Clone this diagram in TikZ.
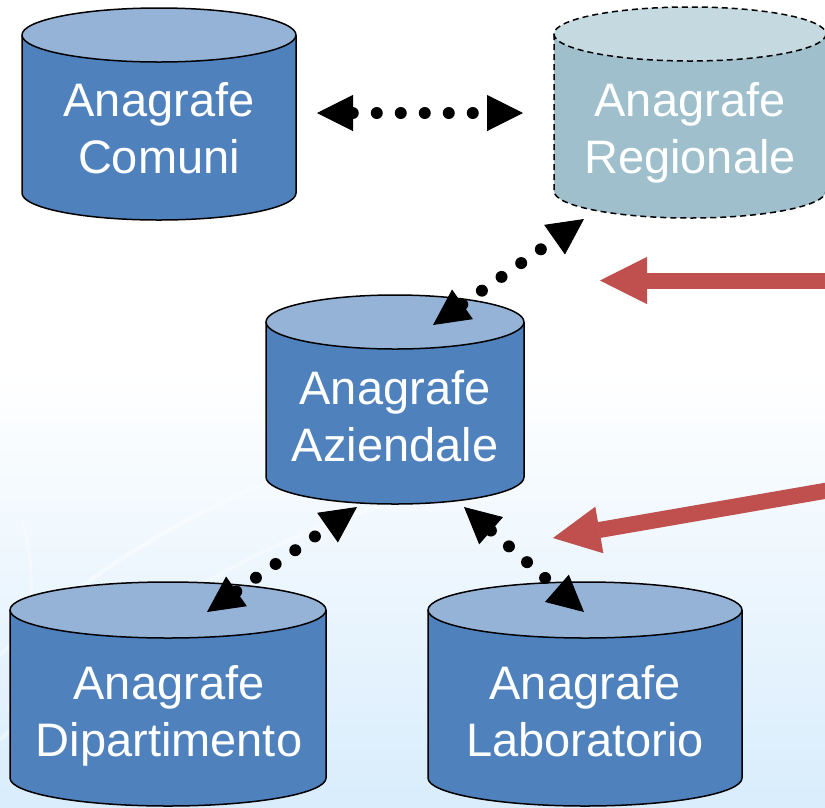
\documentclass[tikz,border=0pt]{standalone}
\usepackage{fontspec}
\setmainfont{Liberation Sans}
\usepackage{tikz}
\usetikzlibrary{arrows.meta}
\usepackage{xcolor}

\definecolor{dbside}{RGB}{79,129,189}
\definecolor{dbtop}{RGB}{149,179,215}
\definecolor{regside}{RGB}{158,191,203}
\definecolor{regtop}{RGB}{196,217,224}
\definecolor{bgblue}{RGB}{186,222,250}
\definecolor{redarr}{RGB}{192,80,77}

\pgfdeclareverticalshading{bgfade}{100bp}{color(0bp)=(bgblue);
  color(28bp)=(bgblue!50!white); color(52bp)=(white); color(100bp)=(white)}

% side colour, top colour, outline, cx, ytop, ybot, rx, ry
\newcommand{\dbcyl}[8]{%
  \filldraw[#3, fill=#1] (#4-#7,#5) -- (#4-#7,#6)
    arc[start angle=180, end angle=0, x radius=#7, y radius=#8] -- (#4+#7,#5);
  \filldraw[#3, fill=#2] (#4,#5) ellipse [x radius=#7, y radius=#8];
}

\begin{document}
\begin{tikzpicture}[x=1pt, y=-1pt, line join=round,
    outline/.style={draw=black, line width=1.5pt},
    regline/.style={draw=black, line width=1.5pt, dash pattern=on 6pt off 4pt},
    dbtext/.style={text=white, align=center, inner sep=0pt,
      font=\fontsize{47}{57}\selectfont},
    link/.style={line width=12pt, line cap=round, dash pattern=on 0pt off 24pt,
      {Triangle[length=36pt, width=36pt, line width=1pt]}-{Triangle[length=36pt, width=36pt, line width=1pt]}},
    push/.style={redarr, line width=16pt,
      -{Triangle[length=47pt, width=47pt, line width=1pt]}}]
    \useasboundingbox (0,0) rectangle (825,807);

    % Background
    \shade[shading=bgfade] (0,0) rectangle (825,807);
    \draw[white, opacity=.45, line width=4pt] (0,655) .. controls (90,570) and (190,510) .. (300,470);
    \draw[white, opacity=.35, line width=4pt] (0,740) .. controls (120,620) and (260,540) .. (400,500);
    \draw[white, opacity=.35, line width=3pt] (22,520) .. controls (40,580) and (30,650) .. (8,710);

    % Cylinders
    \dbcyl{dbside}{dbtop}{outline}{159}{35}{193}{137}{27}
    \dbcyl{regside}{regtop}{regline}{690}{34}{191}{136}{27}
    \dbcyl{dbside}{dbtop}{outline}{395}{322}{477}{129}{27}
    \dbcyl{dbside}{dbtop}{outline}{168}{610}{778}{158}{28}
    \dbcyl{dbside}{dbtop}{outline}{585}{610}{778}{157}{28}

    % Labels
    \node[dbtext] (comuni)    at (159,128) {Anagrafe\\Comuni};
    \node[dbtext] (regionale) at (690,133) {Anagrafe\\Regionale};
    \node[dbtext] (aziendale) at (395,416) {Anagrafe\\Aziendale};
    \node[dbtext] (dipart)    at (169,716) {Anagrafe\\Dipartimento};
    \node[dbtext] (labor)     at (585,711) {Anagrafe\\Laboratorio};

    % Connector ends
    \coordinate (comuni-e)    at (317,113);
    \coordinate (regionale-w) at (523,113);
    \coordinate (regionale-s) at (584,219);
    \coordinate (aziendale-n) at (433,325);
    \coordinate (aziendale-sw) at (357,507);
    \coordinate (aziendale-se) at (464,507);
    \coordinate (dipart-n)    at (207,612);
    \coordinate (labor-n)     at (584,612);
    \coordinate (push1-start) at (830,280.5);
    \coordinate (push1-tip)   at (600,280.5);
    \coordinate (push2-start) at (830,490);
    \coordinate (push2-tip)   at (553,538);

    % Dotted links
    \draw[link] (comuni-e) -- (regionale-w);
    \draw[link] (aziendale-n) -- (regionale-s);
    \draw[link] (dipart-n) -- (aziendale-sw);
    \draw[link] (aziendale-se) -- (labor-n);

    % Red arrows
    \draw[push] (push1-start) -- (push1-tip);
    \draw[push] (push2-start) -- (push2-tip);
\end{tikzpicture}
\end{document}
